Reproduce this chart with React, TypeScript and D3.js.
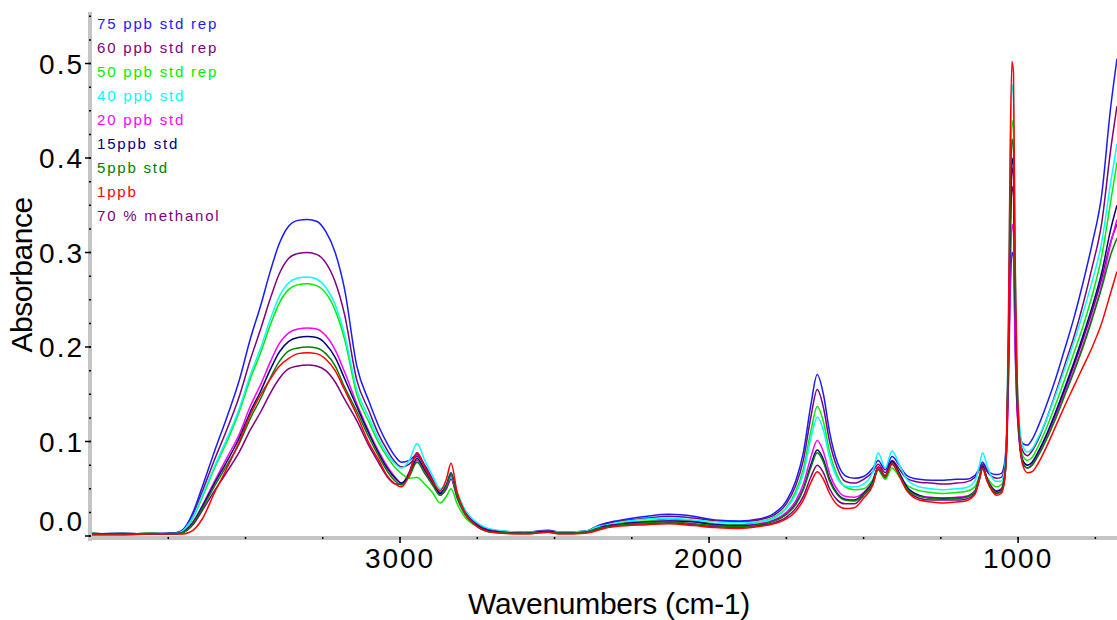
import React from 'react'
import * as d3 from 'd3'

// wavenumber grid (cm-1), shared by all spectra
const wavenumbers = [
  4000, 3900, 3800, 3740, 3710, 3690, 3670, 3640, 3600, 3560, 3520, 3485, 3450, 3420, 3390, 3360, 3330, 3300, 3270, 3240, 3210, 3180,
  3140, 3100, 3070, 3040, 3015, 2995, 2970, 2945, 2920, 2895, 2870, 2850, 2835, 2815, 2790, 2750, 2700,
  2600, 2520, 2480, 2400, 2360, 2340, 2300, 2200, 2130, 2050, 1980, 1900,
  1840, 1790, 1750, 1720, 1695, 1670, 1650, 1630, 1610, 1585, 1560, 1530,
  1500, 1470, 1453, 1430, 1408, 1385, 1360, 1320, 1280, 1240, 1200,
  1170, 1140, 1125, 1115, 1100, 1085, 1070, 1055, 1045, 1038, 1032, 1026, 1020, 1015, 1010, 1004, 996, 985, 970, 955, 935, 910, 880, 850, 820, 790, 760, 730, 700, 680,
]

const std75Rep = [
  0.003, 0.002, 0.003, 0.003, 0.005, 0.012, 0.025, 0.052, 0.09, 0.126, 0.165, 0.208, 0.245, 0.28, 0.31, 0.328, 0.334, 0.335, 0.333, 0.322, 0.3, 0.262,
  0.18, 0.142, 0.117, 0.097, 0.084, 0.078, 0.08, 0.086, 0.074, 0.06, 0.046, 0.054, 0.064, 0.044, 0.027, 0.013, 0.006,
  0.004, 0.006, 0.004, 0.005, 0.011, 0.013, 0.016, 0.021, 0.023, 0.021, 0.017, 0.016,
  0.018, 0.024, 0.037, 0.058, 0.088, 0.14, 0.171, 0.15, 0.11, 0.078, 0.064, 0.061,
  0.063, 0.072, 0.08, 0.07, 0.084, 0.075, 0.064, 0.06, 0.059, 0.059, 0.06,
  0.06, 0.064, 0.072, 0.078, 0.07, 0.066, 0.065, 0.066, 0.075, 0.1, 0.155, 0.25, 0.3, 0.295, 0.205, 0.14, 0.11, 0.098, 0.096, 0.102, 0.116, 0.137, 0.165, 0.197, 0.23, 0.268, 0.31, 0.36, 0.455, 0.505,
]

const std60Rep = [
  0.003, 0.002, 0.002, 0.003, 0.004, 0.01, 0.022, 0.047, 0.081, 0.113, 0.148, 0.186, 0.22, 0.251, 0.278, 0.294, 0.299, 0.3, 0.298, 0.289, 0.269, 0.235,
  0.165, 0.132, 0.108, 0.09, 0.078, 0.073, 0.076, 0.084, 0.075, 0.06, 0.045, 0.052, 0.062, 0.042, 0.026, 0.012, 0.006,
  0.004, 0.005, 0.004, 0.005, 0.01, 0.012, 0.015, 0.019, 0.021, 0.019, 0.016, 0.015,
  0.017, 0.022, 0.034, 0.053, 0.08, 0.127, 0.155, 0.136, 0.1, 0.072, 0.058, 0.056,
  0.06, 0.068, 0.076, 0.067, 0.08, 0.071, 0.061, 0.057, 0.056, 0.055, 0.056,
  0.057, 0.062, 0.07, 0.076, 0.068, 0.063, 0.061, 0.062, 0.07, 0.095, 0.175, 0.31, 0.39, 0.38, 0.25, 0.16, 0.11, 0.09, 0.085, 0.09, 0.102, 0.122, 0.15, 0.18, 0.21, 0.245, 0.285, 0.33, 0.41, 0.455,
]

const std50Rep = [
  0.003, 0.002, 0.003, 0.002, 0.004, 0.009, 0.019, 0.041, 0.072, 0.1, 0.132, 0.166, 0.195, 0.223, 0.247, 0.261, 0.266, 0.267, 0.265, 0.257, 0.239, 0.209,
  0.15, 0.12, 0.099, 0.083, 0.072, 0.066, 0.061, 0.062, 0.055, 0.046, 0.035, 0.042, 0.05, 0.034, 0.02, 0.01, 0.005,
  0.003, 0.005, 0.003, 0.004, 0.009, 0.01, 0.013, 0.016, 0.018, 0.016, 0.013, 0.012,
  0.015, 0.02, 0.03, 0.047, 0.071, 0.112, 0.137, 0.121, 0.089, 0.064, 0.052, 0.049,
  0.05, 0.06, 0.07, 0.06, 0.072, 0.063, 0.054, 0.048, 0.046, 0.045, 0.046,
  0.047, 0.052, 0.064, 0.072, 0.062, 0.055, 0.052, 0.054, 0.062, 0.09, 0.19, 0.35, 0.44, 0.43, 0.28, 0.165, 0.11, 0.085, 0.08, 0.083, 0.095, 0.113, 0.138, 0.165, 0.193, 0.222, 0.255, 0.295, 0.355, 0.395,
]

const std40 = [
  0.002, 0.003, 0.002, 0.003, 0.004, 0.01, 0.02, 0.043, 0.074, 0.103, 0.135, 0.17, 0.2, 0.229, 0.254, 0.268, 0.273, 0.274, 0.272, 0.263, 0.245, 0.214,
  0.155, 0.125, 0.103, 0.086, 0.076, 0.072, 0.08, 0.098, 0.08, 0.064, 0.05, 0.055, 0.062, 0.046, 0.028, 0.014, 0.007,
  0.004, 0.005, 0.004, 0.005, 0.01, 0.011, 0.014, 0.018, 0.019, 0.017, 0.015, 0.014,
  0.015, 0.019, 0.029, 0.044, 0.066, 0.104, 0.126, 0.112, 0.083, 0.061, 0.053, 0.052,
  0.055, 0.068, 0.088, 0.072, 0.09, 0.076, 0.06, 0.052, 0.05, 0.049, 0.05,
  0.051, 0.058, 0.075, 0.088, 0.074, 0.062, 0.058, 0.058, 0.068, 0.1, 0.21, 0.38, 0.478, 0.465, 0.3, 0.18, 0.12, 0.095, 0.089, 0.092, 0.104, 0.122, 0.148, 0.176, 0.205, 0.236, 0.27, 0.31, 0.375, 0.415,
]

const std20 = [
  0.002, 0.002, 0.002, 0.002, 0.003, 0.007, 0.015, 0.032, 0.058, 0.083, 0.108, 0.137, 0.161, 0.184, 0.204, 0.215, 0.219, 0.22, 0.219, 0.212, 0.197, 0.174,
  0.14, 0.11, 0.09, 0.073, 0.062, 0.056, 0.064, 0.08, 0.068, 0.056, 0.044, 0.052, 0.064, 0.042, 0.025, 0.011, 0.005,
  0.003, 0.005, 0.003, 0.004, 0.008, 0.01, 0.012, 0.015, 0.016, 0.015, 0.012, 0.011,
  0.013, 0.017, 0.025, 0.037, 0.055, 0.084, 0.101, 0.089, 0.066, 0.049, 0.042, 0.041,
  0.046, 0.058, 0.072, 0.063, 0.078, 0.066, 0.052, 0.043, 0.041, 0.04, 0.041,
  0.042, 0.048, 0.062, 0.073, 0.06, 0.052, 0.048, 0.05, 0.06, 0.085, 0.15, 0.265, 0.33, 0.322, 0.215, 0.14, 0.1, 0.08, 0.075, 0.077, 0.087, 0.103, 0.125, 0.15, 0.175, 0.202, 0.232, 0.265, 0.31, 0.335,
]

const std15 = [
  0.002, 0.003, 0.002, 0.003, 0.003, 0.007, 0.014, 0.031, 0.056, 0.079, 0.104, 0.131, 0.154, 0.176, 0.195, 0.206, 0.21, 0.211, 0.21, 0.203, 0.189, 0.167,
  0.137, 0.108, 0.088, 0.071, 0.061, 0.056, 0.065, 0.082, 0.07, 0.057, 0.045, 0.054, 0.067, 0.043, 0.025, 0.011, 0.005,
  0.003, 0.005, 0.003, 0.004, 0.008, 0.01, 0.012, 0.015, 0.016, 0.015, 0.012, 0.011,
  0.012, 0.016, 0.023, 0.034, 0.05, 0.076, 0.091, 0.081, 0.06, 0.045, 0.039, 0.038,
  0.045, 0.058, 0.073, 0.064, 0.079, 0.067, 0.052, 0.043, 0.04, 0.04, 0.04,
  0.041, 0.047, 0.062, 0.074, 0.06, 0.051, 0.047, 0.049, 0.06, 0.09, 0.175, 0.32, 0.4, 0.39, 0.255, 0.155, 0.105, 0.08, 0.075, 0.078, 0.089, 0.106, 0.13, 0.156, 0.183, 0.212, 0.243, 0.278, 0.325, 0.35,
]

const std5 = [
  0.002, 0.002, 0.003, 0.002, 0.003, 0.006, 0.013, 0.029, 0.053, 0.075, 0.098, 0.124, 0.146, 0.167, 0.185, 0.196, 0.199, 0.2, 0.199, 0.193, 0.18, 0.158,
  0.132, 0.104, 0.085, 0.068, 0.058, 0.054, 0.063, 0.078, 0.066, 0.054, 0.043, 0.053, 0.066, 0.042, 0.024, 0.01, 0.004,
  0.003, 0.004, 0.003, 0.004, 0.008, 0.009, 0.011, 0.014, 0.015, 0.013, 0.011, 0.01,
  0.012, 0.016, 0.023, 0.033, 0.049, 0.073, 0.088, 0.078, 0.058, 0.044, 0.038, 0.037,
  0.044, 0.056, 0.07, 0.062, 0.077, 0.065, 0.05, 0.042, 0.04, 0.039, 0.04,
  0.041, 0.047, 0.061, 0.072, 0.059, 0.05, 0.046, 0.048, 0.058, 0.088, 0.18, 0.335, 0.42, 0.41, 0.265, 0.16, 0.105, 0.078, 0.072, 0.075, 0.085, 0.101, 0.123, 0.148, 0.173, 0.2, 0.23, 0.262, 0.298, 0.315,
]

const std1 = [
  0.001, 0.001, 0.002, 0.002, 0.002, 0.003, 0.006, 0.018, 0.046, 0.072, 0.1, 0.128, 0.15, 0.166, 0.18, 0.188, 0.193, 0.194, 0.193, 0.187, 0.175, 0.155,
  0.128, 0.098, 0.081, 0.063, 0.055, 0.052, 0.065, 0.088, 0.072, 0.058, 0.048, 0.06, 0.077, 0.046, 0.025, 0.01, 0.004,
  0.002, 0.004, 0.002, 0.003, 0.006, 0.008, 0.01, 0.012, 0.013, 0.011, 0.009, 0.008,
  0.01, 0.013, 0.018, 0.026, 0.038, 0.057, 0.068, 0.06, 0.045, 0.033, 0.029, 0.03,
  0.04, 0.054, 0.073, 0.063, 0.077, 0.064, 0.048, 0.038, 0.036, 0.035, 0.036,
  0.037, 0.044, 0.06, 0.072, 0.058, 0.048, 0.043, 0.045, 0.056, 0.09, 0.2, 0.4, 0.502, 0.49, 0.3, 0.18, 0.11, 0.075, 0.067, 0.068, 0.077, 0.093, 0.115, 0.137, 0.158, 0.179, 0.2, 0.225, 0.258, 0.28,
]

const methanol70 = [
  0.002, 0.002, 0.002, 0.002, 0.003, 0.006, 0.012, 0.027, 0.048, 0.068, 0.089, 0.112, 0.132, 0.151, 0.167, 0.177, 0.18, 0.181, 0.18, 0.175, 0.163, 0.145,
  0.122, 0.095, 0.078, 0.062, 0.055, 0.055, 0.068, 0.088, 0.074, 0.058, 0.043, 0.05, 0.06, 0.04, 0.023, 0.01, 0.004,
  0.003, 0.004, 0.003, 0.004, 0.007, 0.009, 0.011, 0.013, 0.014, 0.012, 0.01, 0.009,
  0.011, 0.014, 0.02, 0.029, 0.042, 0.063, 0.075, 0.067, 0.05, 0.038, 0.034, 0.034,
  0.043, 0.055, 0.07, 0.061, 0.076, 0.064, 0.049, 0.04, 0.038, 0.038, 0.038,
  0.039, 0.045, 0.06, 0.071, 0.058, 0.049, 0.045, 0.047, 0.057, 0.085, 0.165, 0.3, 0.37, 0.36, 0.235, 0.15, 0.1, 0.077, 0.072, 0.075, 0.086, 0.103, 0.127, 0.153, 0.18, 0.208, 0.238, 0.272, 0.312, 0.33,
]

const seriesLabels = [
  '75 ppb std rep',
  '60 ppb std rep',
  '50 ppb std rep',
  '40 ppb std',
  '20 ppb std',
  '15ppb std',
  '5ppb std',
  '1ppb',
  '70 % methanol',
]
const seriesValues = [std75Rep, std60Rep, std50Rep, std40, std20, std15, std5, std1, methanol70]
const seriesColors = ['#1a1aff', '#800080', '#00ee00', '#00ffff', '#ff00ff', '#000080', '#008000', '#ff0000', '#800080']

const yTickLabels = [0, 0.1, 0.2, 0.3, 0.4, 0.5]
const xTickLabels = [3000, 2000, 1000]

const WIDTH = 1117
const HEIGHT = 620
const PLOT_TOP = 12
const PLOT_BOTTOM = 538
const AXIS_X = 90

export default function App() {
  const x = d3.scaleLinear().domain([4000, 680]).range([91, 1117])
  const y = d3.scaleLinear().domain([0, 0.5]).range([536, 63.5])

  const line = d3
    .line<number>()
    .x((_, i) => x(wavenumbers[i]))
    .y((d) => y(d))
    .curve(d3.curveMonotoneX)

  const yMinor = d3.range(0, 0.551, 0.025)
  const xMinor = d3.range(3750, 680, -250)

  // methanol first, 1ppb last so the red trace sits on top
  const drawOrder = [8, 0, 1, 2, 3, 4, 5, 6, 7]

  const font = 'Arial, "Liberation Sans", sans-serif'

  return (
    <>
      <style>{`body{margin:0;background:#fff}`}</style>
      <svg width={WIDTH} height={HEIGHT} style={{ display: 'block' }} fontFamily={font}>
        <rect width={WIDTH} height={HEIGHT} fill="#ffffff" />
        <defs>
          <clipPath id="plot-clip">
            <rect x={92} y={PLOT_TOP} width={WIDTH - 92} height={PLOT_BOTTOM - PLOT_TOP - 2} />
          </clipPath>
        </defs>

        <g clipPath="url(#plot-clip)">
          {drawOrder.map((i) => (
            <path
              key={seriesLabels[i]}
              d={line(seriesValues[i]) ?? ''}
              fill="none"
              stroke={seriesColors[i]}
              strokeWidth={1.5}
              strokeLinejoin="round"
            />
          ))}
        </g>

        {/* axes */}
        <rect x={AXIS_X - 2} y={PLOT_TOP} width={4} height={PLOT_BOTTOM - PLOT_TOP + 3} fill="#c4c4c4" />
        <rect x={AXIS_X - 2} y={PLOT_BOTTOM - 2} width={WIDTH - AXIS_X + 2} height={4} fill="#c4c4c4" />

        {yMinor.map((v) => (
          <line key={`ym${v}`} x1={AXIS_X - 1} x2={AXIS_X + 1} y1={y(v)} y2={y(v)} stroke="#000" strokeWidth={1.5} />
        ))}
        {yTickLabels.map((v) => (
          <g key={`yt${v}`}>
            <line x1={AXIS_X - 5} x2={AXIS_X + 1} y1={y(v)} y2={y(v)} stroke="#000" strokeWidth={1.5} />
            <text
              x={84}
              y={v === 0 ? y(v) - 5 : y(v) + 10}
              textAnchor="end"
              fontSize={28}
              letterSpacing={2}
              fill="#000"
            >
              {v.toFixed(1)}
            </text>
          </g>
        ))}

        {xMinor.map((w) => (
          <line key={`xm${w}`} x1={x(w)} x2={x(w)} y1={PLOT_BOTTOM - 1} y2={PLOT_BOTTOM + 1} stroke="#000" strokeWidth={1.5} />
        ))}
        {xTickLabels.map((w) => (
          <g key={`xt${w}`}>
            <line x1={x(w)} x2={x(w)} y1={PLOT_BOTTOM - 1} y2={PLOT_BOTTOM + 5} stroke="#000" strokeWidth={1.5} />
            <text x={x(w)} y={568} textAnchor="middle" fontSize={28} letterSpacing={2} fill="#000">
              {w}
            </text>
          </g>
        ))}

        <text x={609} y={614} textAnchor="middle" fontSize={30} letterSpacing={-0.3} fill="#000">
          Wavenumbers (cm-1)
        </text>
        <text
          transform={`translate(32, 275) rotate(-90)`}
          textAnchor="middle"
          fontSize={30}
          letterSpacing={-0.5}
          fill="#000"
        >
          Absorbance
        </text>

        {/* legend */}
        {seriesLabels.map((label, i) => (
          <text key={label} x={97} y={28.5 + i * 24} fontSize={15} letterSpacing={1.8} fill={seriesColors[i]}>
            {label}
          </text>
        ))}
      </svg>
    </>
  )
}
